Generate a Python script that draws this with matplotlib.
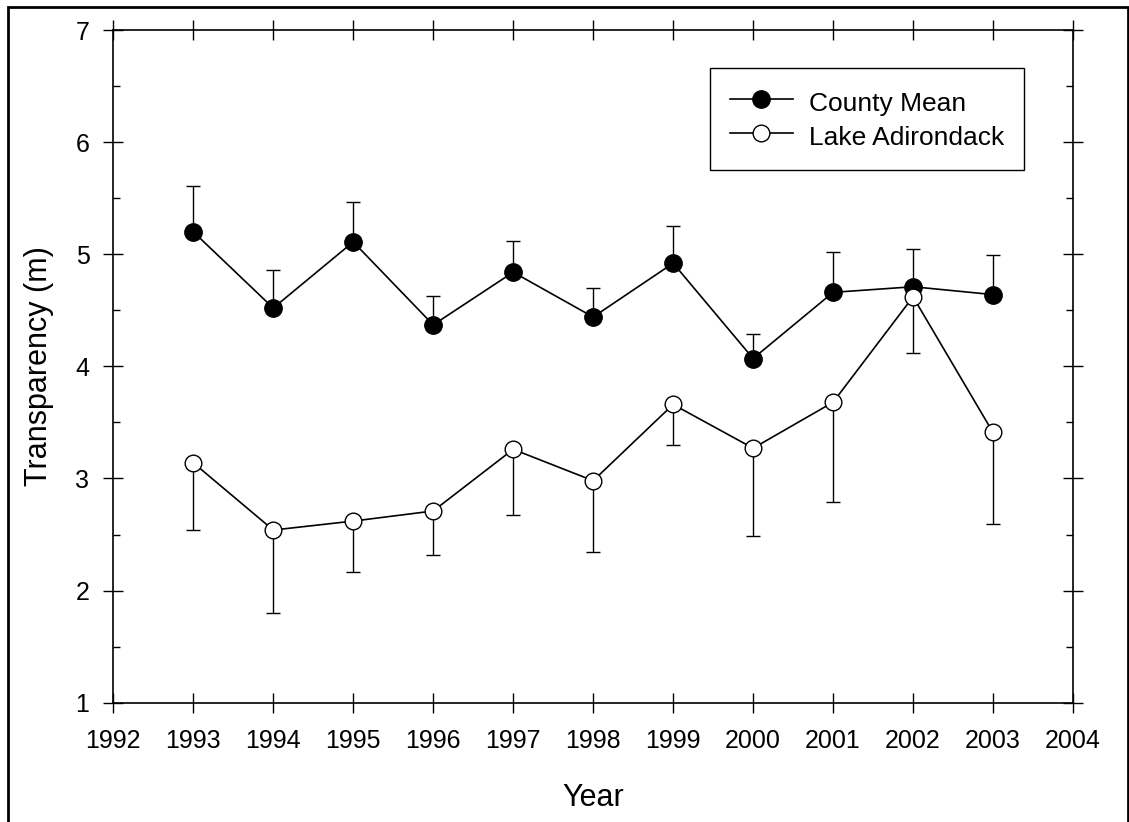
import numpy as np
import matplotlib
matplotlib.use('Agg')
import matplotlib.pyplot as plt
from matplotlib.patches import Rectangle
from matplotlib.lines import Line2D

plt.rcParams['font.family'] = ['Liberation Sans', 'DejaVu Sans']

years = [1993, 1994, 1995, 1996, 1997, 1998, 1999, 2000, 2001, 2002, 2003]
county_mean = [5.20, 4.52, 5.11, 4.37, 4.84, 4.44, 4.92, 4.07, 4.66, 4.71, 4.64]
county_upper = [5.61, 4.86, 5.47, 4.63, 5.12, 4.70, 5.25, 4.29, 5.02, 5.05, 4.99]
lake = [3.14, 2.54, 2.62, 2.71, 3.26, 2.98, 3.66, 3.27, 3.68, 4.62, 3.41]
lake_lower = [2.54, 1.80, 2.17, 2.32, 2.67, 2.34, 3.30, 2.49, 2.79, 4.12, 2.59]

W, H = 1129, 822
fig = plt.figure(figsize=(W / 100, H / 100), dpi=100)
ax = fig.add_axes([113.3 / W, 1 - 702.7 / H, (1073 - 113.3) / W, (702.7 - 30) / H])

cm = np.array(county_mean)
la = np.array(lake)
up = np.array(county_upper) - cm
lo = la - np.array(lake_lower)
zeros = np.zeros(len(years))

# error bars one-sided: county up, lake down
ax.errorbar(years, cm, yerr=[zeros, up], fmt='-o', color='black', lw=1.2,
            ms=12.5, mfc='black', mec='black', mew=1,
            elinewidth=1.0, capsize=4.7, capthick=1.0)
ax.errorbar(years, la, yerr=[lo, zeros], fmt='-o', color='black', lw=1.2,
            ms=12, mfc='white', mec='black', mew=1,
            elinewidth=1.0, capsize=4.7, capthick=1.0)

ax.set_xlim(1992, 2004)
ax.set_ylim(1, 7)
ax.set_xticks(range(1992, 2005))
ax.set_yticks(range(1, 8))
ax.set_yticks(np.arange(1.5, 7, 1.0), minor=True)
ax.tick_params(axis='both', which='major', direction='inout', length=14.4, width=1,
               top=True, right=True, labelsize=18)
ax.tick_params(axis='x', which='major', pad=12)
ax.tick_params(axis='y', which='major', pad=10)
ax.tick_params(axis='y', which='minor', direction='in', length=4.7, width=1,
               left=True, right=True)
ax.tick_params(axis='x', which='minor', bottom=False, top=False)
for s in ax.spines.values():
    s.set_linewidth(1.2)

ax.set_xlabel('Year', fontsize=22)
ax.set_ylabel('Transparency (m)', fontsize=22)
ax.xaxis.set_label_coords(0.5, -0.12)
ax.yaxis.set_label_coords(-0.062, 0.5)

handles = [
    Line2D([0], [0], color='black', lw=1.2, marker='o', ms=12.5, mfc='black', mec='black'),
    Line2D([0], [0], color='black', lw=1.2, marker='o', ms=12, mfc='white', mec='black'),
]
leg = ax.legend(handles, ['County Mean', 'Lake Adirondack'], loc='upper right',
                bbox_to_anchor=(1024 / W, 1 - 68 / H), bbox_transform=fig.transFigure,
                fontsize=19, frameon=True, fancybox=False, framealpha=1,
                edgecolor='black', handlelength=2.4, handletextpad=0.6,
                handleheight=1.3, labelspacing=0.2, borderpad=0.75, borderaxespad=0)
leg.get_frame().set_linewidth(1.0)

fig.add_artist(Rectangle((7.5 / W, -0.05), 1120 / W, 1.05 - 7.5 / H,
                         transform=fig.transFigure, fill=False, lw=2, ec='black'))

fig.savefig('out.png', dpi=100)
